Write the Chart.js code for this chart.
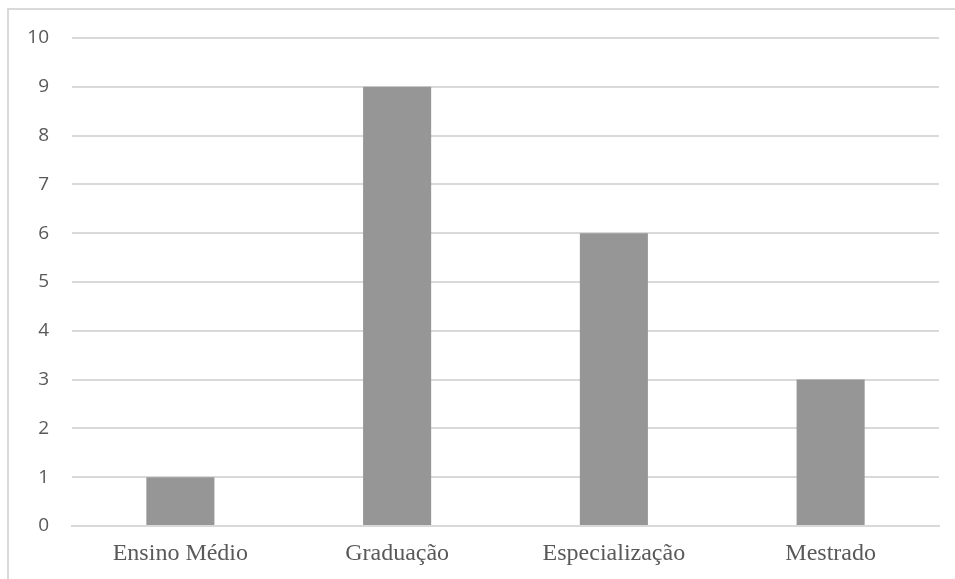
<!DOCTYPE html>
<html>
<head>
<meta charset="utf-8">
<script src="https://cdn.jsdelivr.net/npm/chart.js@4/dist/chart.umd.min.js"></script>
<style>
  body { margin: 0; background: #fff; overflow: hidden; }
  #frame { position: absolute; left: 7px; top: 8px; width: 960px; height: 590px; border: 2px solid #d9d9d9; }
  #wrap { position: absolute; left: 0; top: 0; width: 955px; height: 579px; }
</style>
</head>
<body>
<div id="frame"></div>
<div id="wrap"><canvas id="chart"></canvas></div>
<script>
// data
const categories = ['Ensino Médio', 'Graduação', 'Especialização', 'Mestrado'];
const values = [1, 9, 6, 3];
const yMin = 0, yMax = 10, yStep = 1;

new Chart(document.getElementById('chart'), {
    type: 'bar',
    data: {
        labels: categories,
        datasets: [{ data: values, backgroundColor: '#969696', categoryPercentage: 0.314, barPercentage: 1 }]
    },
    options: {
        responsive: true,
        maintainAspectRatio: false,
        animation: false,
        layout: { padding: { left: 0, right: 16, top: 38, bottom: 0 } },
        plugins: { legend: { display: false }, tooltip: { enabled: false } },
        scales: {
            x: {
                grid: { display: false, drawTicks: false },
                border: { display: true, color: '#d9d9d9', width: 2 },
                ticks: { color: '#595959', padding: 13, font: { family: '"Liberation Serif", "Times New Roman", serif', size: 24 } },
                afterFit: s => { s.height = 53; }
            },
            y: {
                min: yMin, max: yMax,
                grid: { color: '#d9d9d9', lineWidth: 2, drawTicks: false },
                border: { display: false },
                ticks: { stepSize: yStep, color: '#595959', padding: 23, font: { family: '"Open Sans", Lato, sans-serif', size: 19 } },
                afterFit: s => { s.width = 72; }
            }
        }
    }
});
</script>
</body>
</html>
